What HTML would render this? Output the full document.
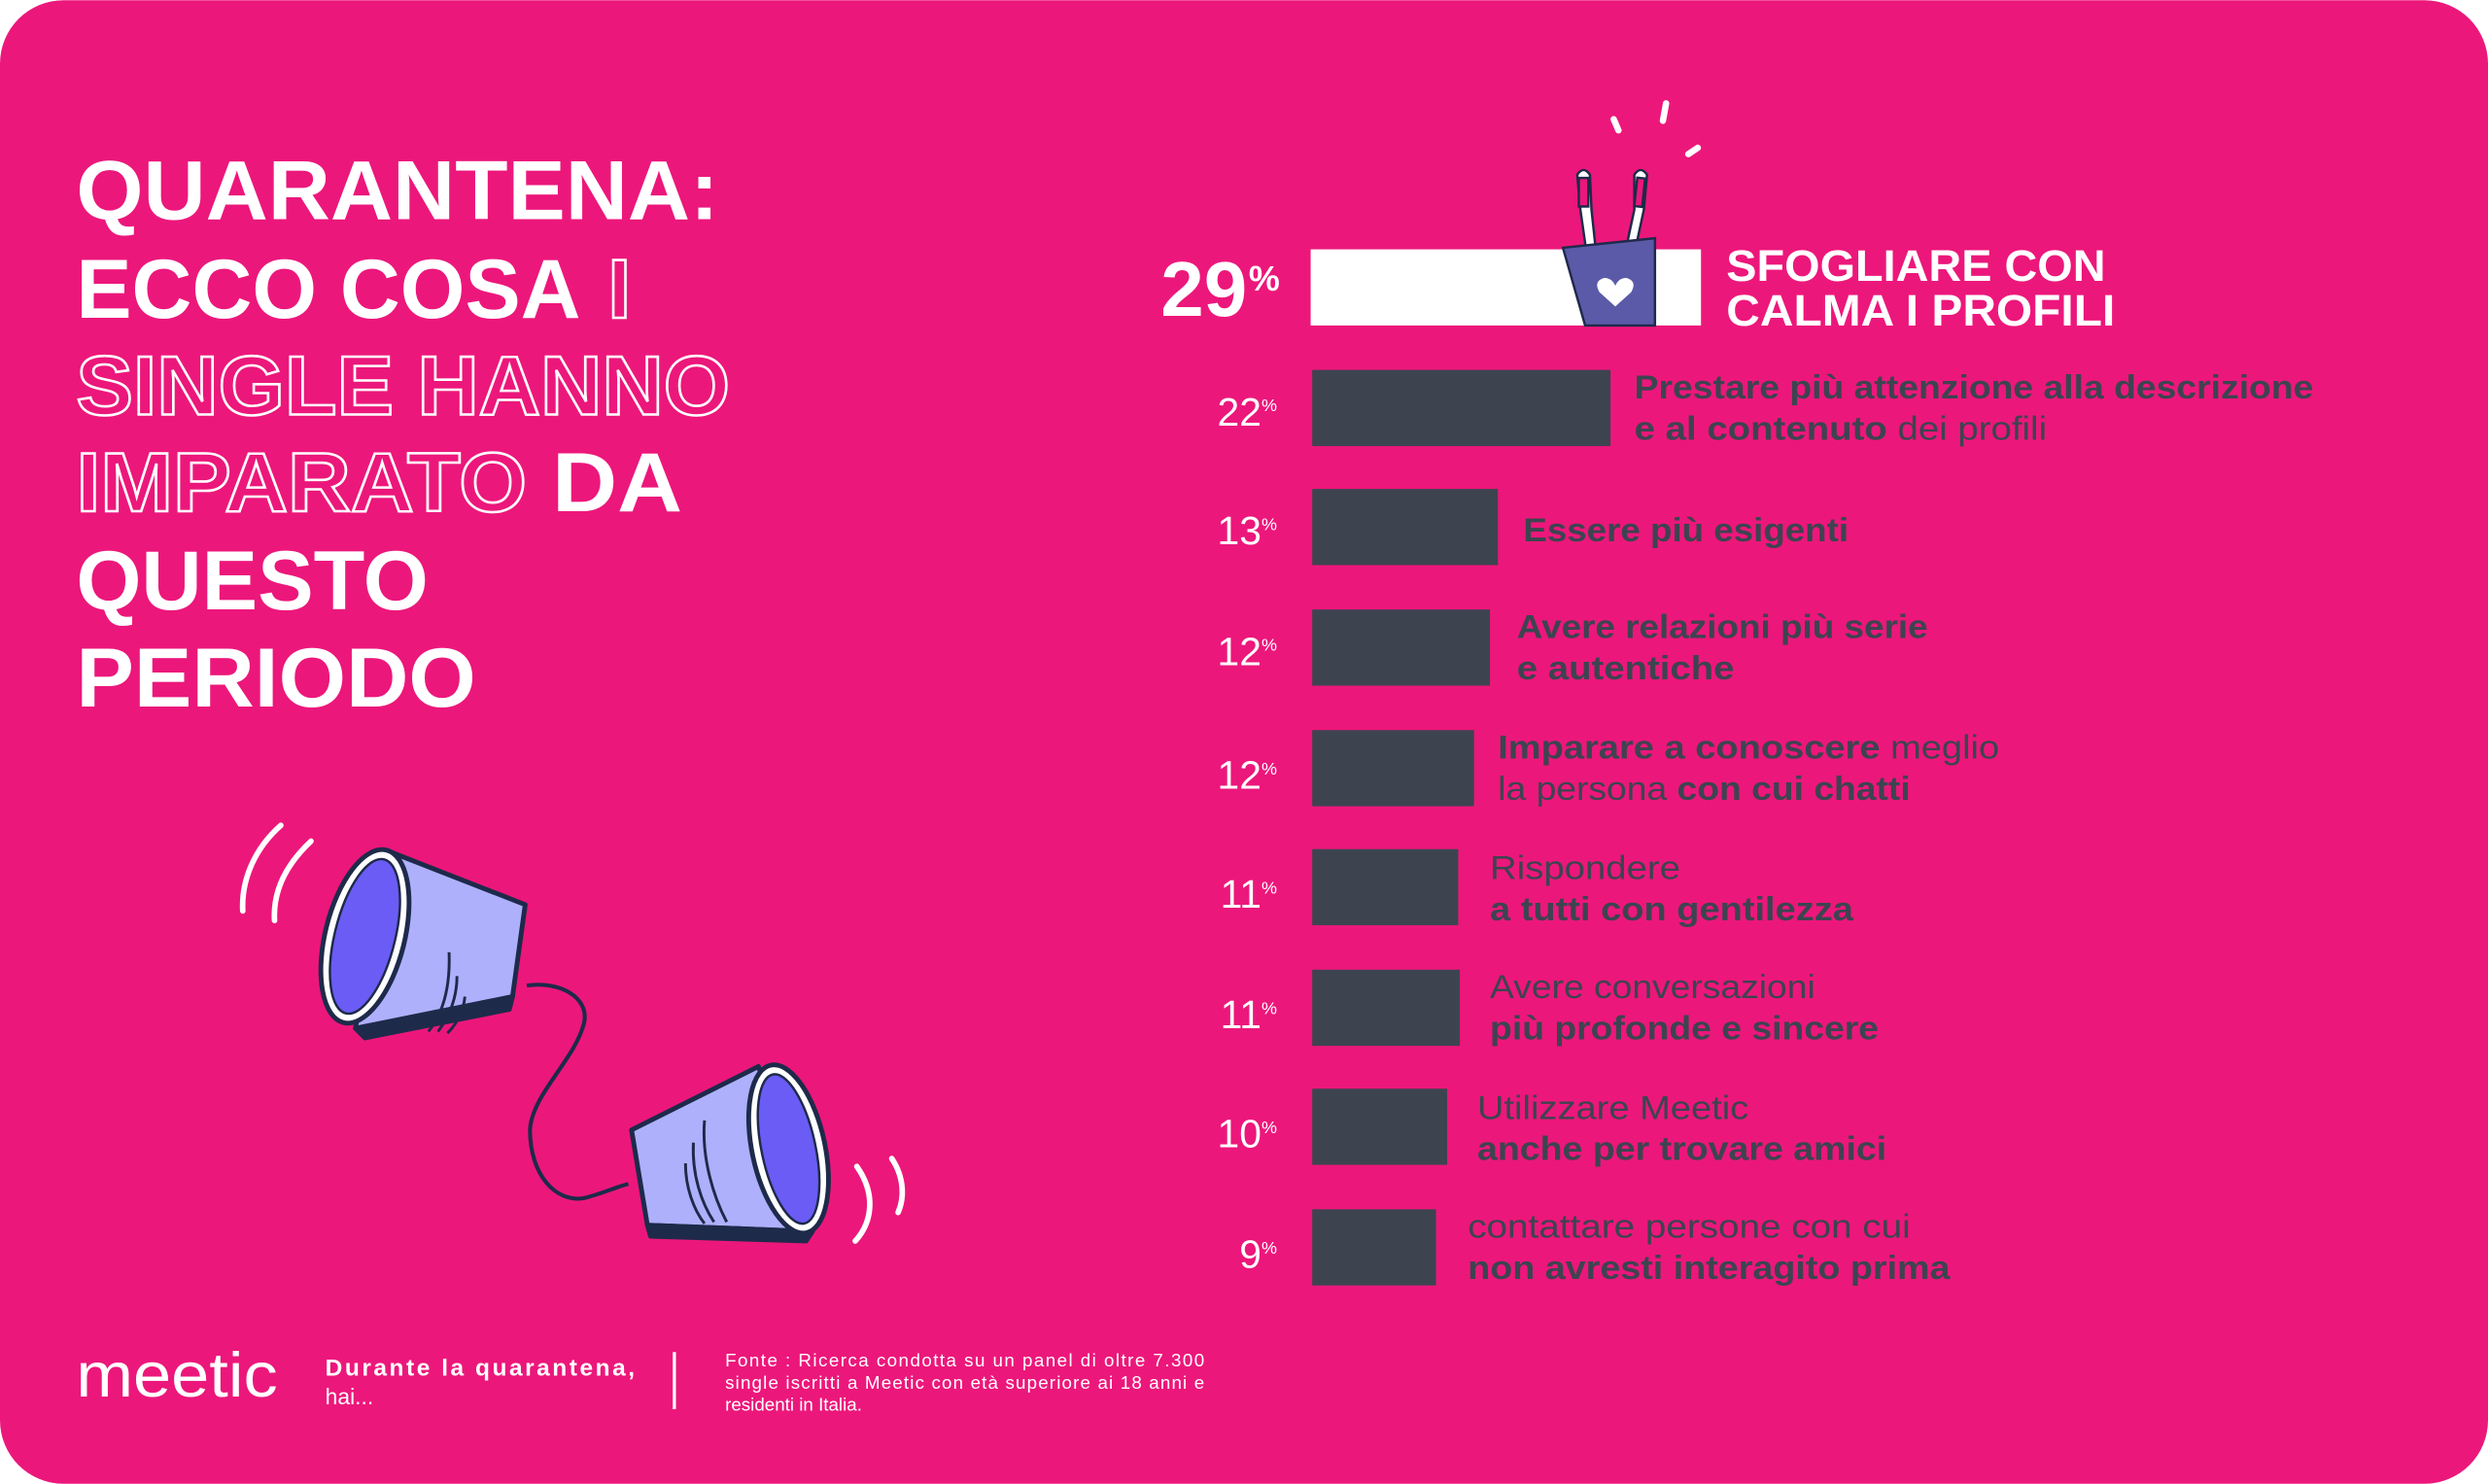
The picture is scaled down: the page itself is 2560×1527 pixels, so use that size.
<!DOCTYPE html>
<html><head><meta charset="utf-8"><style>
html,body{margin:0;padding:0;background:#fff;width:2560px;height:1527px;overflow:hidden}
svg{display:block}
text{font-family:"Liberation Sans",sans-serif}
</style></head><body>
<svg width="2560" height="1527" viewBox="0 0 1568 935" xmlns="http://www.w3.org/2000/svg">
<rect x="0" y="0" width="1568" height="935" rx="40" fill="#ec177b"/>
<!-- Title -->
<g font-weight="bold" font-size="53" fill="#fff">
<text x="48" y="138" textLength="405" lengthAdjust="spacingAndGlyphs">QUARANTENA:</text>
<text x="48" y="200" textLength="318" lengthAdjust="spacingAndGlyphs">ECCO COSA</text>
<text x="383" y="200" fill="none" stroke="#fff" stroke-width="1.6">I</text>
<text x="48" y="261" fill="none" stroke="#fff" stroke-width="1.6" textLength="412" lengthAdjust="spacingAndGlyphs">SINGLE HANNO</text>
<text x="48" y="322" fill="none" stroke="#fff" stroke-width="1.6" textLength="284" lengthAdjust="spacingAndGlyphs">IMPARATO</text>
<text x="348" y="322" textLength="82" lengthAdjust="spacingAndGlyphs">DA</text>
<text x="48" y="384" textLength="222" lengthAdjust="spacingAndGlyphs">QUESTO</text>
<text x="48" y="445" textLength="252" lengthAdjust="spacingAndGlyphs">PERIODO</text>
</g>
<!-- top bar -->
<rect x="826" y="157" width="246" height="48" fill="#fff"/>
<text x="786" y="199" font-size="49" font-weight="bold" fill="#fff" text-anchor="end">29</text>
<text x="787" y="183" font-size="22" font-weight="bold" fill="#fff">%</text>
<g font-size="28" font-weight="bold" fill="#fff">
<text x="1088" y="177" textLength="239" lengthAdjust="spacingAndGlyphs">SFOGLIARE CON</text>
<text x="1088" y="205" textLength="245" lengthAdjust="spacingAndGlyphs">CALMA I PROFILI</text>
</g>
<!-- toothbrushes + cup -->
<g stroke="#1e2a4a" stroke-width="1.5">
<path d="M994,110 Q998,104 1002,110 L1003,132 L1006,160 L1000,160 L996,132 Z" fill="#fff"/>
<rect x="995" y="112" width="6" height="18" fill="#ec177b"/>
<path d="M1030,110 Q1034,104 1038,110 L1036,132 L1030,160 L1024,160 L1030,132 Z" fill="#fff"/>
<rect x="1031" y="112" width="5" height="18" fill="#ec177b" transform="rotate(6 1033 120)"/>
<path d="M985,156 L1043,150 L1043,205 L999,205 Z" fill="#5b5aa8"/>
</g>
<path d="M1018,193 L1008,184 Q1004,177 1011,175 Q1016,175 1018,180 Q1020,175 1025,175 Q1032,177 1028,184 Z" fill="#fff"/>
<g stroke="#fff" stroke-width="4" stroke-linecap="round">
<line x1="1017" y1="75" x2="1020" y2="82"/>
<line x1="1050" y1="65" x2="1048" y2="76"/>
<line x1="1064" y1="97" x2="1070" y2="93"/>
</g>
<!-- bars -->
<g fill="#3d4450">
<rect x="827" y="233" width="188" height="48"/>
<rect x="827" y="308" width="117" height="48"/>
<rect x="827" y="384" width="112" height="48"/>
<rect x="827" y="460" width="102" height="48"/>
<rect x="827" y="535" width="92" height="48"/>
<rect x="827" y="611" width="93" height="48"/>
<rect x="827" y="686" width="85" height="48"/>
<rect x="827" y="762" width="78" height="48"/>
</g>
<g font-size="25" fill="#fff" text-anchor="end">
<text x="795" y="268">22</text>
<text x="795" y="343">13</text>
<text x="795" y="419">12</text>
<text x="795" y="497">12</text>
<text x="795" y="572">11</text>
<text x="795" y="648">11</text>
<text x="795" y="723">10</text>
<text x="795" y="799">9</text>
</g>
<g font-size="11" fill="#fff">
<text x="795" y="259">%</text><text x="795" y="334">%</text><text x="795" y="410">%</text>
<text x="795" y="488">%</text><text x="795" y="563">%</text><text x="795" y="639">%</text>
<text x="795" y="714">%</text><text x="795" y="790">%</text>
</g>
<g font-size="21" fill="#3d4450">
<text x="1030" y="251" font-weight="bold" textLength="428" lengthAdjust="spacingAndGlyphs">Prestare più attenzione alla descrizione</text>
<text x="1030" y="277" textLength="260" lengthAdjust="spacingAndGlyphs"><tspan font-weight="bold">e al contenuto</tspan> dei profili</text>
<text x="960" y="341" font-weight="bold" textLength="205" lengthAdjust="spacingAndGlyphs">Essere più esigenti</text>
<text x="956" y="402" font-weight="bold" textLength="259" lengthAdjust="spacingAndGlyphs">Avere relazioni più serie</text>
<text x="956" y="428" font-weight="bold" textLength="137" lengthAdjust="spacingAndGlyphs">e autentiche</text>
<text x="944" y="478" textLength="316" lengthAdjust="spacingAndGlyphs"><tspan font-weight="bold">Imparare a conoscere</tspan> meglio</text>
<text x="944" y="504" textLength="260" lengthAdjust="spacingAndGlyphs">la persona <tspan font-weight="bold">con cui chatti</tspan></text>
<text x="939" y="554" textLength="120" lengthAdjust="spacingAndGlyphs">Rispondere</text>
<text x="939" y="580" font-weight="bold" textLength="229" lengthAdjust="spacingAndGlyphs">a tutti con gentilezza</text>
<text x="939" y="629" textLength="205" lengthAdjust="spacingAndGlyphs">Avere conversazioni</text>
<text x="939" y="655" font-weight="bold" textLength="245" lengthAdjust="spacingAndGlyphs">più profonde e sincere</text>
<text x="931" y="705" textLength="171" lengthAdjust="spacingAndGlyphs">Utilizzare Meetic</text>
<text x="931" y="731" font-weight="bold" textLength="258" lengthAdjust="spacingAndGlyphs">anche per trovare amici</text>
<text x="925" y="780" textLength="279" lengthAdjust="spacingAndGlyphs">contattare persone con cui</text>
<text x="925" y="806" font-weight="bold" textLength="304" lengthAdjust="spacingAndGlyphs">non avresti interagito prima</text>
</g>
<!-- cups -->
<path d="M332,621 C352,618 372,628 368,645 C362,668 335,690 334,712 C334,740 350,758 368,755 C380,752 388,748 396,746" fill="none" stroke="#1e2a4a" stroke-width="2.5"/>
<g stroke="#1e2a4a" stroke-width="3" stroke-linejoin="round">
<path d="M244,536 L331,570 L323,628 L224,648 Z" fill="#aeb0fc"/>
<path d="M224,648 L323,628 L321,636 L230,654 Z" fill="#1e2a4a"/>
<ellipse cx="230" cy="590" rx="25" ry="56" transform="rotate(14 230 590)" fill="#fff"/>
<ellipse cx="230" cy="590" rx="19" ry="50" transform="rotate(14 230 590)" fill="#6a5cf5" stroke-width="1.5"/>
<path d="M398,712 L478,672 L512,776 L408,772 Z" fill="#aeb0fc"/>
<path d="M408,772 L512,776 L508,782 L410,779 Z" fill="#1e2a4a"/>
<ellipse cx="497" cy="724" rx="23" ry="54" transform="rotate(-12 497 724)" fill="#fff"/>
<ellipse cx="497" cy="724" rx="17" ry="48" transform="rotate(-12 497 724)" fill="#6a5cf5" stroke-width="1.5"/>
</g>
<g fill="none" stroke="#1e2a4a" stroke-width="1.8">
<path d="M283,600 C284,625 278,640 270,650"/>
<path d="M288,615 C288,630 282,642 276,650"/>
<path d="M293,628 C292,638 288,645 282,651"/>
<path d="M444,706 C442,730 450,755 458,770"/>
<path d="M437,720 C436,740 442,758 450,770"/>
<path d="M432,733 C432,748 437,762 444,771"/>
</g>
<g fill="none" stroke="#fff" stroke-width="3.5" stroke-linecap="round">
<path d="M177,520 C160,535 152,555 153,574"/>
<path d="M196,530 C180,545 172,562 173,580"/>
<path d="M540,735 C552,752 550,770 539,782"/>
<path d="M562,730 C570,742 570,755 566,764"/>
</g>
<!-- footer -->
<text x="48" y="880" font-size="40" fill="#fff" textLength="127" lengthAdjust="spacingAndGlyphs">meetic</text>
<text x="205" y="867" font-size="15" font-weight="bold" fill="#fff" textLength="195">Durante la quarantena,</text>
<text x="205" y="885" font-size="14" fill="#fff">hai...</text>
<line x1="425" y1="852" x2="425" y2="888" stroke="#fff" stroke-width="2"/>
<g font-size="11.5" fill="#fff">
<text x="457" y="861" textLength="302">Fonte : Ricerca condotta su un panel di oltre 7.300</text>
<text x="457" y="875" textLength="302">single iscritti a Meetic con età superiore ai 18 anni e</text>
<text x="457" y="889">residenti in Italia.</text>
</g>
</svg>
</body></html>
